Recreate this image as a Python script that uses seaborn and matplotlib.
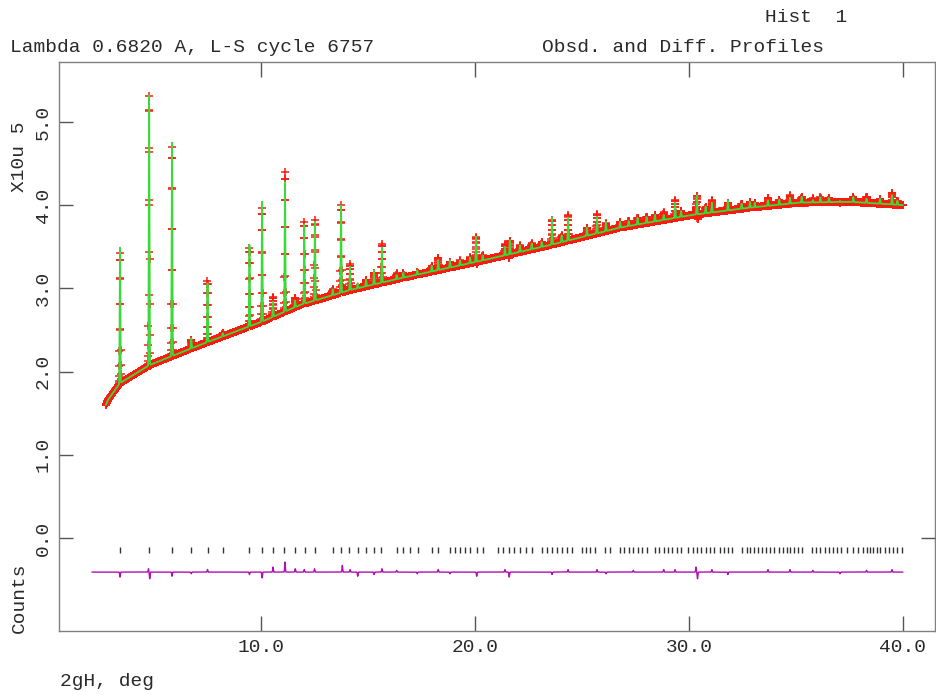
import numpy as np
import pandas as pd
import matplotlib
matplotlib.use("Agg")
import matplotlib.pyplot as plt
import seaborn as sns

# ---------------- data (2theta in deg, intensity in 1e5 counts) -------------
bg_pos = [2.75, 2.85, 3.41, 4.81, 7.15, 10.05, 11.82, 14.16, 16.50, 20.09, 23.50, 26.78, 30.09,
          32.85, 35.19, 37.52, 40.0]
bg_val = [1.60, 1.66, 1.86, 2.08, 2.32, 2.60, 2.80, 2.98, 3.12, 3.32, 3.52, 3.73, 3.88,
          3.97, 4.03, 4.04, 4.00]

major_pos = [3.41, 4.77, 5.84, 6.74, 7.50, 8.21, 9.46, 10.05, 10.56, 11.12, 12.02, 12.52, 13.74,
             14.16, 15.28, 15.65, 16.34, 17.30, 18.28, 18.83, 20.05, 21.40, 21.63, 23.60, 24.35,
             25.23, 25.70, 26.12, 29.35, 30.37, 31.07, 31.82, 33.08, 33.69, 34.72, 35.79, 37.06, 39.49]
major_top = [3.49, 5.32, 4.75, 2.40, 3.06, 2.46, 3.52, 4.04, 2.84, 4.28, 3.77, 3.80, 4.00,
             3.26, 3.22, 3.49, 3.16, 3.22, 3.34, 3.34, 3.62, 3.50, 3.58, 3.85, 3.85,
             3.73, 3.86, 3.80, 4.03, 4.12, 4.03, 4.06, 4.03, 4.06, 4.09, 4.06, 4.05, 4.12]

minor_pos = [11.59, 13.35, 14.52, 14.91, 16.65, 17.98, 19.30, 19.77, 20.36, 22.10, 22.65, 23.12,
             24.05, 26.78, 27.18, 27.60, 28.02, 28.41, 28.82, 29.63, 30.78, 32.46, 32.85, 34.22,
             35.27, 36.14, 36.54, 37.68, 38.30, 38.93, 39.74]
minor_h = [0.08, 0.07, 0.06, 0.08, 0.06, 0.07, 0.06, 0.07, 0.06, 0.08, 0.07, 0.06,
           0.08, 0.07, 0.06, 0.08, 0.07, 0.08, 0.06, 0.07, 0.08, 0.06, 0.07, 0.06,
           0.07, 0.06, 0.05, 0.06, 0.05, 0.06, 0.05]

res_pos = [3.41, 4.74, 4.80, 5.84, 6.74, 7.50, 9.46, 10.05, 10.56, 11.12, 11.60, 12.02, 12.50,
           13.80, 14.16, 14.52, 15.28, 15.65, 16.34, 17.30, 18.28, 18.83, 20.08, 21.40, 21.60,
           23.60, 24.35, 25.70, 26.12, 27.40, 28.82, 29.35, 30.33, 30.40, 31.07, 31.82, 33.69,
           34.72, 35.79, 37.06, 38.30, 39.49]
res_amp = [-0.06, 0.04, -0.08, -0.05, -0.02, 0.03, -0.03, -0.07, 0.06, 0.12, 0.04, 0.03, 0.04,
           0.08, 0.03, -0.05, -0.03, 0.04, 0.02, -0.02, 0.03, -0.02, -0.05, 0.03, -0.06,
           -0.03, 0.03, 0.03, -0.02, 0.02, 0.03, 0.03, 0.06, -0.08, 0.03, -0.03, 0.03,
           0.03, 0.02, -0.02, 0.02, 0.03]
diff_offset = -0.41
diff_start = 2.10
obs_start = 2.75

refl_pos = [3.41, 4.78, 5.83, 6.73, 7.51, 8.21, 9.45, 10.03, 10.55, 11.07, 11.59, 12.06, 12.52,
            13.35, 13.74, 14.13, 14.52, 14.91, 15.29, 15.61, 16.34, 16.65, 16.96, 17.32, 17.98,
            18.29, 18.83, 19.07, 19.30, 19.53, 19.77, 20.08, 20.36, 21.09, 21.32, 21.61, 21.84,
            22.10, 22.37, 22.65, 23.12, 23.35, 23.58, 23.82, 24.05, 24.28, 24.52, 24.98, 25.19,
            25.39, 25.61, 26.08, 26.31, 26.78, 26.98, 27.18, 27.40, 27.60, 27.80, 28.02, 28.41,
            28.61, 28.82, 29.02, 29.22, 29.42, 29.63, 29.97, 30.17, 30.37, 30.58, 30.78, 30.98,
            31.18, 31.45, 31.64, 31.82, 32.01, 32.46, 32.70, 32.85, 33.04, 33.22, 33.41, 33.60,
            33.79, 33.97, 34.22, 34.39, 34.56, 34.74, 34.91, 35.08, 35.27, 35.73, 35.94, 36.14,
            36.34, 36.54, 36.75, 36.90, 37.13, 37.37, 37.68, 37.91, 38.15, 38.30, 38.46, 38.61,
            38.77, 38.93, 39.16, 39.36, 39.55, 39.74, 39.94]

x_ticks = [10.0, 20.0, 30.0, 40.0]
x_tick_labels = ["10.0", "20.0", "30.0", "40.0"]
y_ticks = [0.0, 1.0, 2.0, 3.0, 4.0, 5.0]
y_tick_labels = ["0.0", "1.0", "2.0", "3.0", "4.0", "5.0"]

# ---------------- build the profile tables -------------
sig = 0.015
tth = np.arange(obs_start, 40.0001, 0.005)
calc = np.interp(tth, bg_pos, bg_val)
for p, t in zip(major_pos, major_top):
    calc += (t - np.interp(p, bg_pos, bg_val)) * np.exp(-0.5 * ((tth - p) / sig) ** 2)
for p, h in zip(minor_pos, minor_h):
    calc += h * np.exp(-0.5 * ((tth - p) / sig) ** 2)
resid = np.zeros_like(tth)
for p, a in zip(res_pos, res_amp):
    resid += a * np.exp(-0.5 * ((tth - p) / sig) ** 2)
df = pd.DataFrame({"tth": tth, "obs": calc + resid, "calc": calc})

tth_d = np.arange(diff_start, 40.0001, 0.005)
resid_d = np.zeros_like(tth_d)
for p, a in zip(res_pos, res_amp):
    resid_d += a * np.exp(-0.5 * ((tth_d - p) / sig) ** 2)
df_diff = pd.DataFrame({"tth": tth_d, "diff": resid_d + diff_offset})

# ---------------- plot -------------
sns.set_theme(style="white")
plt.rcParams["font.family"] = ["Liberation Mono", "DejaVu Sans Mono"]
txt_col = "#2a2a2a"

fig = plt.figure(figsize=(9.36, 6.95), dpi=100)
ax = fig.add_axes([59 / 936, 1 - 631 / 695, (935 - 59) / 936, (631 - 62) / 695])

sns.scatterplot(data=df, x="tth", y="obs", marker="+", s=40, color="#ff1a10",
                linewidth=1.1, ax=ax, zorder=2)
sns.lineplot(data=df, x="tth", y="calc", color="#3ada3a", linewidth=1.3, ax=ax, zorder=3)
sns.lineplot(data=df_diff, x="tth", y="diff", color="#b010b0", linewidth=1.0, ax=ax, zorder=3)
ax.vlines(refl_pos, -0.185, -0.11, color="#333333", linewidth=1.0, zorder=3)

ax.set_xlim(0.56, 41.5)
ax.set_ylim(-1.118, 5.72)
ax.set_xlabel("")
ax.set_ylabel("")

for sp in ax.spines.values():
    sp.set_color("#808080")
    sp.set_linewidth(1.0)
    sp.set_visible(True)

ax.set_xticks(x_ticks)
ax.set_xticklabels(x_tick_labels)
ax.set_yticks(y_ticks)
ax.set_yticklabels(y_tick_labels)
ax.tick_params(axis="x", direction="in", length=11, width=1, top=True, bottom=True,
               color="#555555", labelsize=14, labelcolor=txt_col, pad=6)
ax.tick_params(axis="y", direction="in", length=10, width=1, left=True, right=False,
               color="#555555", labelsize=14, labelcolor=txt_col, pad=5)
for lab in ax.get_yticklabels():
    lab.set_rotation(90)
    lab.set_va("center")

ax2 = ax.twinx()
ax2.set_ylim(ax.get_ylim())
ax2.set_yticks([0.0])
ax2.set_yticklabels([""])
ax2.tick_params(axis="y", direction="in", length=10, width=1, color="#555555")
for sp in ax2.spines.values():
    sp.set_visible(False)
ax2.grid(False)

fig.text(765 / 936, 1 - 18 / 695, "Hist  1", fontsize=14, color=txt_col, ha="left", va="center")
fig.text(10 / 936, 1 - 47 / 695, "Lambda 0.6820 A, L-S cycle 6757", fontsize=14, color=txt_col,
         ha="left", va="center")
fig.text(542 / 936, 1 - 47 / 695, "Obsd. and Diff. Profiles", fontsize=14, color=txt_col,
         ha="left", va="center")
fig.text(19 / 936, 1 - 157 / 695, "X10u 5", fontsize=14, color=txt_col, rotation=90,
         ha="center", va="center")
fig.text(19 / 936, 1 - 598 / 695, "Counts", fontsize=14, color=txt_col, rotation=90,
         ha="center", va="center")
fig.text(60 / 936, 1 - 682 / 695, "2gH, deg", fontsize=14, color=txt_col, ha="left", va="center")

fig.savefig("out.png", dpi=100)
